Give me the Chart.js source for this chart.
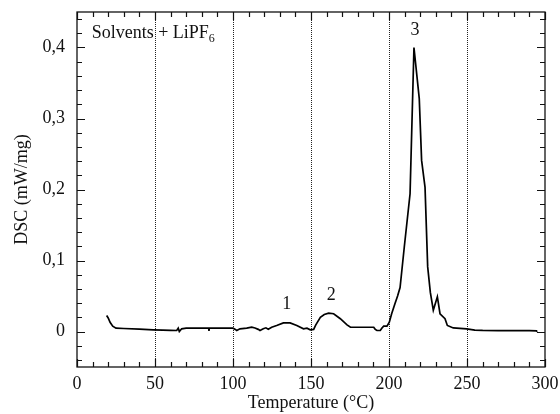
<!DOCTYPE html>
<html>
<head>
<meta charset="utf-8">
<script src="https://cdn.jsdelivr.net/npm/chart.js@4.4.0/dist/chart.umd.min.js"></script>
<style>
  html, body { margin: 0; padding: 0; background: #fff; }
  #wrap { width: 560px; height: 414px; }
</style>
</head>
<body>
<div id="wrap"><canvas id="c" width="560" height="414"></canvas></div>
<script>
// ---- data ----
const temperature = [19, 20, 21.2, 22.9, 25, 30, 40, 48.9, 55, 60, 63.9, 64.9, 65.6, 67.1, 70, 80, 84.4, 84.6, 84.8, 90, 100, 101.5, 102.4, 104.5, 108.8, 112, 114.1, 116.2, 117.3, 119.4, 121.1, 122.6, 124.8, 128, 132.3, 136.6, 140.9, 145.2, 147.4, 149.5, 151.7, 153, 156, 158.5, 161.3, 164.5, 168.8, 173.1, 175.3, 180, 186, 190.2, 191.2, 192.3, 194.4, 195.5, 196.6, 198.7, 200.2, 201.7, 203.8, 205.5, 207.1, 209.8, 213.5, 216, 219.4, 220.9, 223.1, 224.8, 226.5, 228.4, 231, 232.7, 235.9, 237.4, 241.2, 249.8, 255, 260, 270, 280, 290, 294.5, 295];
const dsc = [0.0225, 0.019, 0.013, 0.0075, 0.0047, 0.0042, 0.0033, 0.0024, 0.0019, 0.0016, 0.0014, 0.0047, 0.0, 0.0038, 0.0047, 0.0047, 0.0047, 0.001, 0.0047, 0.0047, 0.0047, 0.003, 0.0014, 0.0038, 0.0047, 0.006, 0.005, 0.003, 0.0014, 0.004, 0.0052, 0.0033, 0.006, 0.0085, 0.0122, 0.0122, 0.0085, 0.0038, 0.0047, 0.0024, 0.003, 0.009, 0.020, 0.024, 0.0258, 0.025, 0.018, 0.0094, 0.006, 0.006, 0.006, 0.006, 0.003, 0.0014, 0.0014, 0.005, 0.0075, 0.0075, 0.013, 0.025, 0.039, 0.05, 0.062, 0.119, 0.194, 0.400, 0.328, 0.241, 0.203, 0.091, 0.055, 0.030, 0.049, 0.025, 0.018, 0.0085, 0.005, 0.0038, 0.002, 0.0015, 0.0012, 0.0012, 0.0012, 0.001, -0.0005];
const xTicks = [0, 50, 100, 150, 200, 250, 300];
const yTicks = [0, 0.1, 0.2, 0.3, 0.4];
const dottedLines = [50, 100, 150, 200, 250];
const peakLabels = ['1', '2', '3'];
const peakLabelX = [134.4, 163, 216.7];
const peakLabelY = [0.039, 0.051, 0.424];
const sampleName = 'Solvents + LiPF';
const sampleSub = '6';

const FONT = '"Liberation Serif", "Times New Roman", Times, serif';
const points = temperature.map((t, i) => ({ x: t, y: dsc[i] }));

const framePlugin = {
  id: 'frame',
  afterDraw(chart) {
    const { ctx, chartArea: a, scales } = chart;
    const xs = scales.x, ys = scales.y;
    ctx.save();
    ctx.strokeStyle = '#111';
    ctx.lineWidth = 1.3;
    ctx.strokeRect(a.left, a.top, a.right - a.left, a.bottom - a.top);
    ctx.lineWidth = 1.2;
    ctx.beginPath();
    // x ticks (bottom & top), inward
    for (let v = 0; v <= 300; v += 10) {
      const px = Math.round(xs.getPixelForValue(v)) + 0.5;
      const len = (v % 50 === 0) ? 8 : 5;
      ctx.moveTo(px, a.bottom); ctx.lineTo(px, a.bottom - len);
      ctx.moveTo(px, a.top); ctx.lineTo(px, a.top + len);
    }
    // y ticks (left & right), inward
    for (let k = -2; k <= 22; k++) {
      const v = k * 0.02;
      if (v < ys.min - 1e-9 || v > ys.max + 1e-9) continue;
      const py = Math.round(ys.getPixelForValue(v)) + 0.5;
      const len = (k % 5 === 0) ? 8 : 5;
      ctx.moveTo(a.left, py); ctx.lineTo(a.left + len, py);
      ctx.moveTo(a.right, py); ctx.lineTo(a.right - len, py);
    }
    ctx.stroke();

    // text annotations
    ctx.fillStyle = '#111';
    ctx.font = '18px ' + FONT;
    ctx.textAlign = 'center';
    ctx.textBaseline = 'middle';
    peakLabels.forEach((s, i) => {
      ctx.fillText(s, xs.getPixelForValue(peakLabelX[i]), ys.getPixelForValue(peakLabelY[i]));
    });
    ctx.textAlign = 'left';
    ctx.textBaseline = 'alphabetic';
    const tx = xs.getPixelForValue(9.4), ty = ys.getPixelForValue(0.414);
    ctx.fillText(sampleName, tx, ty);
    const w = ctx.measureText(sampleName).width;
    ctx.font = '12px ' + FONT;
    ctx.fillText(sampleSub, tx + w, ty + 4);
    ctx.restore();
  }
};

new Chart(document.getElementById('c'), {
  type: 'line',
  data: {
    datasets: [{
      data: points,
      borderColor: '#000',
      borderWidth: 1.7,
      pointRadius: 0,
      tension: 0,
      fill: false
    }]
  },
  options: {
    responsive: false,
    animation: false,
    devicePixelRatio: 1,
    layout: { padding: { top: 12, right: 15, left: 0, bottom: 0 } },
    plugins: { legend: { display: false }, tooltip: { enabled: false } },
    scales: {
      x: {
        type: 'linear',
        min: 0, max: 300,
        afterBuildTicks(s) { s.ticks = xTicks.map(v => ({ value: v })); },
        afterFit(s) { s.height = 47; s.paddingLeft = 0; s.paddingRight = 0; },
        ticks: {
          color: '#111', padding: 6, maxRotation: 0, autoSkip: false,
          font: { family: FONT, size: 18 }
        },
        grid: {
          drawTicks: false,
          lineWidth: 1,
          color: (c) => dottedLines.includes(c.tick && c.tick.value) ? '#222' : 'rgba(0,0,0,0)'
        },
        border: { display: false, dash: [1, 1] },
        title: {
          display: true, text: 'Temperature (°C)', color: '#111',
          font: { family: FONT, size: 18 }, padding: { top: 0, bottom: 0 }
        }
      },
      y: {
        type: 'linear',
        min: -0.05, max: 0.45,
        afterBuildTicks(s) { s.ticks = yTicks.map(v => ({ value: v })); },
        afterFit(s) { s.width = 77; s.paddingTop = 0; s.paddingBottom = 0; },
        ticks: {
          color: '#111', padding: 12,
          font: { family: FONT, size: 18 },
          callback: (v) => v === 0 ? '0' : v.toFixed(1).replace('.', ',')
        },
        grid: { display: false, drawTicks: false },
        border: { display: false },
        title: {
          display: true, text: 'DSC (mW/mg)', color: '#111',
          font: { family: FONT, size: 18 }, padding: { top: 11, bottom: 0 }
        }
      }
    }
  },
  plugins: [framePlugin]
});
</script>
</body>
</html>
